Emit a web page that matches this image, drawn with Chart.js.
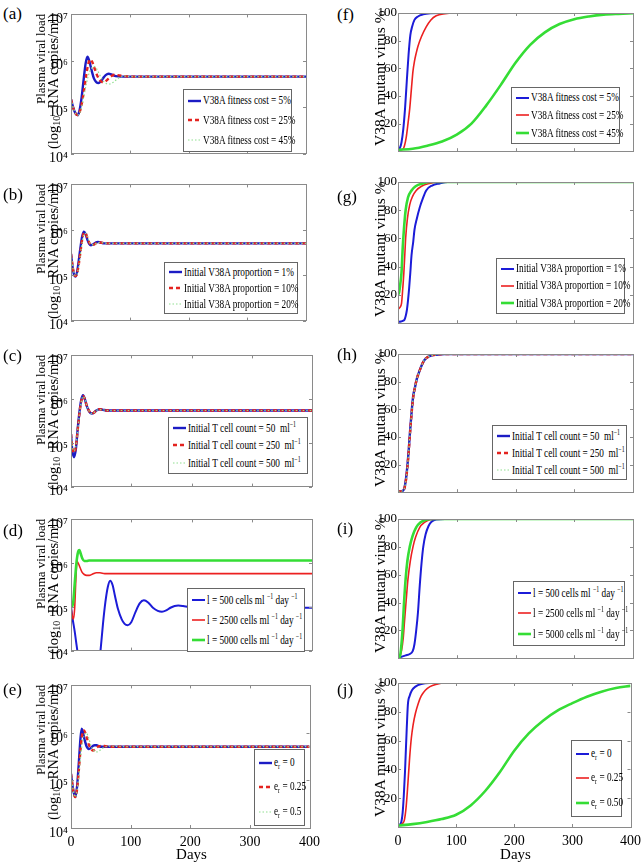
<!DOCTYPE html>
<html>
<head>
<meta charset="utf-8">
<script src="https://cdn.jsdelivr.net/npm/chart.js@4.4.1/dist/chart.umd.min.js"></script>
<style>
  body { margin: 0; background: #fff; }
  #fig { position: relative; width: 642px; height: 868px; overflow: hidden;
         font-family: "Liberation Serif", "Times New Roman", serif; color: #000; }
  .panel { position: absolute; }
  .tag { position: absolute; font-size: 17px; line-height: 20px; }
  .ytitle { position: absolute; writing-mode: vertical-rl; transform: rotate(180deg); white-space: nowrap; }
  .ytitle.left { text-align: right; line-height: 12px; width: 24px; }
  .ytitle.left .l1 { font-size: 13px; display: block; }
  .ytitle.left .l2 { font-size: 14.5px; display: block; }
  .ytitle.right { font-size: 15.5px; line-height: 16px; width: 16px; text-align: center; }
  .ytitle sub { font-size: 10px; }
  .days { position: absolute; font-size: 15px; transform: translateX(-50%); }
  .legend { position: absolute; background: #fff; border: 1px solid #666; box-sizing: border-box;
            display: flex; flex-direction: column; justify-content: space-around; padding: 1px 0 1px 4px; }
  .legend .row { display: flex; align-items: center; white-space: nowrap; height: 14px; }
  .legend svg { flex: none; margin-right: 2px; }
  .lt { display: inline-block; font-size: 12.5px; transform: scaleX(.74); transform-origin: 0 50%; }
  .lt sup { font-size: 8px; vertical-align: 5px; }
  .lt sub { font-size: 8px; vertical-align: -3px; }
</style>
</head>
<body>
<div id="fig"></div>
<script>
// Plasma viral load panels hold log10(copies/ml); mutant panels hold percent.
const DAY_TICKS = [0, 100, 200, 300, 400];
const LOG_TICKS = [4, 5, 6, 7];
const PCT_TICKS = [20, 40, 60, 80, 100];

// (a) V38A fitness cost 5 / 25 / 45 %
const aDaysBlue  = [0,4,8,11,14,18,22,25,28,31,35,39,43,47,51,55,59,64,70,76,85,100,200,300,400];
const aBlue      = [5.17,4.98,4.86,4.83,4.9,5.2,5.65,5.95,6.09,6.0,5.8,5.62,5.54,5.52,5.56,5.63,5.69,5.72,5.70,5.67,5.66,5.66,5.66,5.66,5.66];
const aDaysRed   = [0,4,8,11,14,18,22,26,30,33,36,40,44,48,52,55,60,65,70,75,80,90,100,200,300,400];
const aRed       = [5.17,4.98,4.86,4.83,4.87,5.05,5.35,5.7,5.96,6.03,5.98,5.84,5.7,5.6,5.55,5.54,5.57,5.63,5.68,5.70,5.69,5.67,5.66,5.66,5.66,5.66];
const aDaysGreen = [0,4,8,11,14,18,22,26,30,34,39,44,48,52,56,60,66,72,78,85,92,100,200,300,400];
const aGreen     = [5.17,4.98,4.86,4.83,4.86,5.0,5.25,5.5,5.7,5.82,5.88,5.82,5.72,5.62,5.55,5.51,5.5,5.54,5.6,5.65,5.67,5.66,5.66,5.66,5.66];

// (b) initial V38A proportion 1 / 10 / 20 %
const bDays  = [0,3,5,7.4,10,13,16,19,22,25,28,31,34,38,42,46,50,56,65,100,200,300,400];
const bBlue  = [5.47,5.15,5.02,4.97,5.05,5.3,5.6,5.85,5.96,5.9,5.78,5.69,5.66,5.68,5.72,5.73,5.72,5.70,5.70,5.70,5.70,5.70,5.70];
const bRed   = [5.47,5.17,5.04,4.98,5.02,5.22,5.5,5.78,5.93,5.92,5.82,5.72,5.67,5.67,5.7,5.73,5.72,5.71,5.70,5.70,5.70,5.70,5.70];
const bGreen = [5.47,5.19,5.06,4.99,5.01,5.18,5.45,5.72,5.9,5.92,5.84,5.74,5.68,5.67,5.69,5.72,5.72,5.71,5.70,5.70,5.70,5.70,5.70];

// (c) initial T cell count 50 / 250 / 500 per ml
const cDays  = [0,2,5,8,11,14,17,20,23,26,30,34,38,42,47,52,60,100,200,300,400];
const cBlue  = [5.2,4.85,4.67,4.85,5.3,5.7,5.98,6.09,6.0,5.85,5.72,5.67,5.69,5.74,5.77,5.76,5.74,5.74,5.74,5.74,5.74];
const cRed   = [5.2,4.9,4.77,4.9,5.28,5.67,5.95,6.07,6.0,5.86,5.73,5.67,5.69,5.74,5.77,5.76,5.74,5.74,5.74,5.74,5.74];
const cGreen = [5.2,4.93,4.82,4.92,5.27,5.66,5.94,6.06,6.0,5.86,5.73,5.67,5.69,5.74,5.76,5.76,5.74,5.74,5.74,5.74,5.74];

// (d) source term 500 / 2500 / 5000 cells per ml per day
const dDaysBlue  = [0,3,6,9,12,16,22,30,38,44,49,53,57,61,65,69,73,78,84,89,94,100,107,114,121,128,136,144,151,158,165,172,178,186,195,210,230,260,300,350,400];
const dBlue      = [5.0,4.7,4.45,4.15,3.85,3.4,2.9,2.5,2.8,3.4,4.0,4.6,5.1,5.45,5.6,5.5,5.25,4.95,4.72,4.61,4.58,4.65,4.88,5.08,5.15,5.1,4.98,4.91,4.89,4.92,4.98,5.02,5.03,5.02,5.0,4.98,4.97,4.98,4.98,4.98,4.98];
const dDaysRed   = [0,2,4,6,8,10,12,15,18,22,26,30,36,42,48,56,70,100,200,300,400];
const dRed       = [5.0,4.8,4.72,4.95,5.6,6.04,6.0,5.9,5.8,5.74,5.72,5.72,5.75,5.78,5.78,5.76,5.76,5.76,5.76,5.76,5.76];
const dDaysGreen = [0,2,4,6,8,10,12,14,16,19,22,26,30,40,100,200,300,400];
const dGreen     = [5.1,5.0,5.15,5.5,5.85,6.12,6.27,6.3,6.22,6.1,6.05,6.05,6.06,6.06,6.06,6.06,6.06,6.06];

// (e) e_r 0 / 0.25 / 0.5
const eDays  = [0,3,7,10,13,16,18,20,22,24,26,28,30,34,37,40,43,47,52,58,65,100,200,300,400];
const eBlue  = [5.14,4.85,4.65,4.85,5.35,5.9,6.09,6.02,5.9,5.8,5.72,5.68,5.66,5.69,5.73,5.74,5.74,5.72,5.71,5.71,5.71,5.71,5.71,5.71,5.71];
const eRed   = [5.14,4.85,4.65,4.8,5.2,5.65,5.9,6.03,6.05,6.0,5.92,5.83,5.75,5.66,5.63,5.65,5.69,5.72,5.73,5.72,5.71,5.71,5.71,5.71,5.71];
const eGreen = [5.14,4.85,4.65,4.78,5.1,5.5,5.7,5.85,5.94,5.99,6.0,5.95,5.88,5.72,5.65,5.61,5.6,5.62,5.67,5.71,5.72,5.71,5.71,5.71,5.71];

// (f) mutant %, fitness cost
const fDaysBlue  = [0,3,6,9,12,15,18,21,24,28,34,43,55,70,400];
const fBlue      = [1,2,6.5,16,31,51,70,84,90,95,97.5,99,99.8,100,100];
const fDaysRed   = [0,5,8.5,11,14,17,20,23,25.5,28,31,34,40,48,56,65,80,94,400];
const fRed       = [1,1.1,1.5,4,10,20,31,46,58,65,71,76,83,90,95,98,99.5,100,100];
const fDaysGreen = [0,25,50,75,100,125,150,175,200,225,250,275,300,325,350,375,400];
const fGreen     = [1,1.8,4,7,12,20,33,48,64,77,86,92,95.5,97.5,98.8,99.4,99.8];

// (g) mutant %, initial proportion
const gDaysBlue  = [0,5,9,11,13,15,17,19,21,23,26,28,32,37,42,48,58,71,85,400];
const gBlue      = [1,1.2,1.8,2.5,5,9,16,25,36,48,58,66,74,82,88,94,97.5,99,100,100];
const gDaysRed   = [0,3,6,8,10,12,13,16,20,25,31,40,54,70,400];
const gRed       = [10,11,14,24,36,52,60,74,84,90,94,97,99,100,100];
const gDaysGreen = [0,2,4,6,8,10,13,17,23,30,42,55,400];
const gGreen     = [20,22,28,36,53,66,80,89,94,97,99,100,100];

// (h) mutant %, initial T cells
const hDays  = [0,4,8,11,14,16,18,20,22,24,26,29,32,36,40,44,48,56,65,80,400];
const hBlue  = [0.5,0.6,1,3,11,19,29,41,52,62,70,76,82,87,91.5,95,97,98.8,99.5,100,100];
const hRed   = [0.5,0.6,1,3,10,18,28,40,51,61,69,76,82,87,91.5,95,97,98.8,99.5,100,100];
const hGreen = [0.5,0.6,1,3,10,18,28,40,51,61,69,76,82,87,91.5,95,97,98.8,99.5,100,100];

// (i) mutant %, source term
const iDaysBlue  = [0,6,13,20,25,28,31,34,37,40,43,47,52,57,65,80,400];
const iBlue      = [0.5,1,2,3,5,10,20,33,52,68,80,89,95,98,99.7,100,100];
const iDaysRed   = [0,3,6,9,11,14,17,21,25.5,30,37,45,54,70,400];
const iRed       = [0.5,1.5,5.5,15,26,42,57,70,80,87,94,97.5,99.5,100,100];
const iDaysGreen = [0,3,5,8,10,13,16,20,25,31,38,48,60,400];
const iGreen     = [0.5,1,6,22,38,57,70,80,88,94,97.5,99.5,100,100];

// (j) mutant %, e_r
const jDaysBlue  = [0,3,6,8,10,12,13,15,17,20,24,30,40,54,400];
const jBlue      = [1,1.5,4,10,22,38,48,68,85,91,95,97.5,99.3,100,100];
const jDaysRed   = [0,5,8,11,14,17,20,23,26,30,35,40,47,55,65,82,400];
const jRed       = [1,1.5,2.5,5,14,30,48,62,71,79,86,91,95,97.5,99,100,100];
const jDaysGreen = [0,25,50,75,100,125,150,175,200,225,250,275,300,325,350,375,400];
const jGreen     = [1,2,3.5,5.5,8.5,15,25,38,53,65,74,81,86,90.5,94,96.5,98];

const FONT = '"Liberation Serif", "Times New Roman", serif';
const SUP = { 4: '⁴', 5: '⁵', 6: '⁶', 7: '⁷' };

const STYLE = {
  blue:      { borderColor: '#1c1cc4', borderWidth: 2.4 },
  redDash:   { borderColor: '#e4231f', borderWidth: 2.4, borderDash: [4, 3] },
  greenDot:  { borderColor: '#8fe08f', borderWidth: 1.2, borderDash: [1.5, 2] },
  blueLine:  { borderColor: '#1c1cd8', borderWidth: 2 },
  redLine:   { borderColor: '#ec2020', borderWidth: 1.6 },
  greenLine: { borderColor: '#35dd35', borderWidth: 2.6 },
};

const T_FIT = ['V38A fitness cost = 5%', 'V38A fitness cost = 25%', 'V38A fitness cost = 45%'];
const T_PROP = ['Initial V38A proportion = 1%', 'Initial V38A proportion = 10%', 'Initial V38A proportion = 20%'];
const T_CELL = ['Initial T cell count = 50&nbsp; ml<sup>−1</sup>', 'Initial T cell count = 250 &nbsp;ml<sup>−1</sup>', 'Initial T cell count = 500 &nbsp;ml<sup>−1</sup>'];
const T_SRC = ['l = 500 cells ml <sup>−1</sup> day <sup>−1</sup>', 'l = 2500 cells ml <sup>−1</sup> day <sup>−1</sup>', 'l = 5000 cells ml <sup>−1</sup> day <sup>−1</sup>'];

const panels = [
  { tag: '(a)', tagAt: [3, 4], box: [71, 13, 306, 161], kind: 'log', legend: [183, 89, 292, 152], texts: T_FIT,
    series: [[aDaysBlue, aBlue, 'blue'], [aDaysRed, aRed, 'redDash'], [aDaysGreen, aGreen, 'greenDot']] },
  { tag: '(b)', tagAt: [3, 185], box: [71, 183, 306, 328], kind: 'log', legend: [164, 262, 298, 314], texts: T_PROP,
    series: [[bDays, bBlue, 'blue'], [bDays, bRed, 'redDash'], [bDays, bGreen, 'greenDot']] },
  { tag: '(c)', tagAt: [3, 346], box: [71, 354, 312, 494], kind: 'log', legend: [168, 417, 308, 474], texts: T_CELL,
    series: [[cDays, cBlue, 'blue'], [cDays, cRed, 'redDash'], [cDays, cGreen, 'greenDot']] },
  { tag: '(d)', tagAt: [3, 521], box: [71, 518, 312, 658], kind: 'log', legend: [187, 588, 305, 652], texts: T_SRC,
    series: [[dDaysBlue, dBlue, 'blueLine'], [dDaysRed, dRed, 'redLine'], [dDaysGreen, dGreen, 'greenLine']] },
  { tag: '(e)', tagAt: [3, 680], box: [71, 684, 312, 828], kind: 'log', legend: [254, 749, 305, 826], xLabels: true,
    texts: ['e<sub>r</sub> = 0', 'e<sub>r</sub> = 0.25', 'e<sub>r</sub> = 0.5'],
    series: [[eDays, eBlue, 'blue'], [eDays, eRed, 'redDash'], [eDays, eGreen, 'greenDot']] },
  { tag: '(f)', tagAt: [337, 5], box: [398, 13, 633, 156], kind: 'pct', legend: [511, 87, 620, 144], texts: T_FIT,
    series: [[fDaysBlue, fBlue, 'blueLine'], [fDaysRed, fRed, 'redLine'], [fDaysGreen, fGreen, 'greenLine']] },
  { tag: '(g)', tagAt: [337, 187], box: [398, 182, 633, 328], kind: 'pct', legend: [496, 258, 625, 314], texts: T_PROP,
    series: [[gDaysBlue, gBlue, 'blueLine'], [gDaysRed, gRed, 'redLine'], [gDaysGreen, gGreen, 'greenLine']] },
  { tag: '(h)', tagAt: [337, 345], box: [398, 354, 633, 497], kind: 'pct', legend: [492, 425, 627, 480], texts: T_CELL,
    series: [[hDays, hBlue, 'blue'], [hDays, hRed, 'redDash'], [hDays, hGreen, 'greenDot']] },
  { tag: '(i)', tagAt: [337, 519], box: [398, 519, 633, 663], kind: 'pct', legend: [513, 581, 625, 646], texts: T_SRC,
    series: [[iDaysBlue, iBlue, 'blueLine'], [iDaysRed, iRed, 'redLine'], [iDaysGreen, iGreen, 'greenLine']] },
  { tag: '(j)', tagAt: [337, 680], box: [398, 683, 633, 827], kind: 'pct', legend: [571, 740, 622, 817], xLabels: true,
    texts: ['e<sub>r</sub> = 0', 'e<sub>r</sub> = 0.25', 'e<sub>r</sub> = 0.50'],
    series: [[jDaysBlue, jBlue, 'blueLine'], [jDaysRed, jRed, 'redLine'], [jDaysGreen, jGreen, 'greenLine']] },
];

// MATLAB-style grey box with inward ticks on all four sides
const boxPlugin = {
  id: 'matlabBox',
  afterDraw(chart) {
    const { ctx, chartArea: a, scales: { x, y } } = chart;
    ctx.save();
    ctx.strokeStyle = '#8a8a8a';
    ctx.lineWidth = 1;
    ctx.strokeRect(Math.round(a.left) + 0.5, Math.round(a.top) + 0.5,
                   Math.round(a.right - a.left), Math.round(a.bottom - a.top));
    ctx.beginPath();
    x.ticks.forEach(t => {
      const px = Math.round(x.getPixelForValue(t.value)) + 0.5;
      ctx.moveTo(px, a.bottom); ctx.lineTo(px, a.bottom - 3);
      ctx.moveTo(px, a.top); ctx.lineTo(px, a.top + 3);
    });
    y.ticks.forEach(t => {
      const py = Math.round(y.getPixelForValue(t.value)) + 0.5;
      ctx.moveTo(a.left, py); ctx.lineTo(a.left + 3, py);
      ctx.moveTo(a.right, py); ctx.lineTo(a.right - 3, py);
    });
    ctx.stroke();
    ctx.restore();
  }
};

const fig = document.getElementById('fig');

function addDiv(cls, html, css) {
  const d = document.createElement('div');
  d.className = cls;
  d.innerHTML = html;
  Object.assign(d.style, css);
  fig.appendChild(d);
  return d;
}

function sample(st) {
  const s = STYLE[st];
  const dash = s.borderDash ? ` stroke-dasharray="${s.borderDash.join(' ')}"` : '';
  return `<svg width="13" height="6"><line x1="0" y1="3" x2="13" y2="3" stroke="${s.borderColor}" stroke-width="${s.borderWidth}"${dash}/></svg>`;
}

function makePanel(p) {
  const [l, t, r, b] = p.box;
  const isLog = p.kind === 'log';
  const AXW = isLog ? 44 : 40, PT = 10, PR = 14;
  const XH = p.xLabels ? 26 : 4;
  const W = r - l + AXW + PR, H = b - t + PT + XH;

  const wrap = addDiv('panel', '', { left: (l - AXW) + 'px', top: (t - PT) + 'px', width: W + 'px', height: H + 'px' });
  const cv = document.createElement('canvas');
  cv.width = W; cv.height = H;
  wrap.appendChild(cv);

  new Chart(cv, {
    type: 'line',
    data: {
      datasets: p.series.map(([xs, ys, st], i) => ({
        data: xs.map((d, k) => ({ x: d, y: ys[k] })),
        ...STYLE[st],
        pointRadius: 0,
        fill: false,
        cubicInterpolationMode: 'monotone',
        order: 3 - i,
      })),
    },
    options: {
      responsive: false,
      animation: false,
      events: [],
      layout: { padding: { top: PT, right: PR, left: 0, bottom: 0 } },
      plugins: { legend: { display: false }, tooltip: { enabled: false } },
      scales: {
        x: {
          type: 'linear', min: 0, max: 400,
          afterBuildTicks: s => { s.ticks = DAY_TICKS.map(v => ({ value: v })); },
          afterFit: s => { s.height = XH; },
          ticks: { display: !!p.xLabels, color: '#000', padding: 6, maxRotation: 0,
                   font: { family: FONT, size: 14 }, callback: v => String(v) },
          grid: { display: false, drawTicks: false },
          border: { display: false },
        },
        y: {
          type: 'linear',
          min: isLog ? 4 : 0, max: isLog ? 7 : 100,
          afterBuildTicks: s => { s.ticks = (isLog ? LOG_TICKS : PCT_TICKS).map(v => ({ value: v })); },
          afterFit: s => { s.width = AXW; },
          ticks: { color: '#000', padding: isLog ? 3 : 1, labelOffset: isLog ? 5 : 0,
                   font: { family: FONT, size: isLog ? 14 : 13 },
                   callback: v => isLog ? '10' + SUP[v] : String(v) },
          grid: { display: false, drawTicks: false },
          border: { display: false },
        },
      },
    },
    plugins: [boxPlugin],
  });

  // panel letter
  addDiv('tag', p.tag, { left: p.tagAt[0] + 'px', top: p.tagAt[1] + 'px' });

  // y-axis title (vertical text, read bottom to top)
  if (isLog) {
    addDiv('ytitle left',
      '<span class="l1">Plasma viral load</span><span class="l2">(log<sub>10</sub> &nbsp;RNA copies/ml)</span>',
      { left: '35px', top: (t + 1) + 'px', height: (b - t - 2) + 'px' });
  } else {
    addDiv('ytitle right', 'V38A mutant virus %', { left: '372px', top: (t - 6) + 'px', height: (b - t) + 'px' });
  }

  // legend
  const [ll, lt, lr, lb] = p.legend;
  addDiv('legend',
    p.series.map(([, , st], i) => `<div class="row">${sample(st)}<span class="lt">${p.texts[i]}</span></div>`).join(''),
    { left: ll + 'px', top: lt + 'px', width: (lr - ll) + 'px', height: (lb - lt) + 'px' });

  if (p.xLabels) addDiv('days', 'Days', { left: ((l + r) / 2) + 'px', top: '846px' });
}

panels.forEach(makePanel);
</script>
</body>
</html>
